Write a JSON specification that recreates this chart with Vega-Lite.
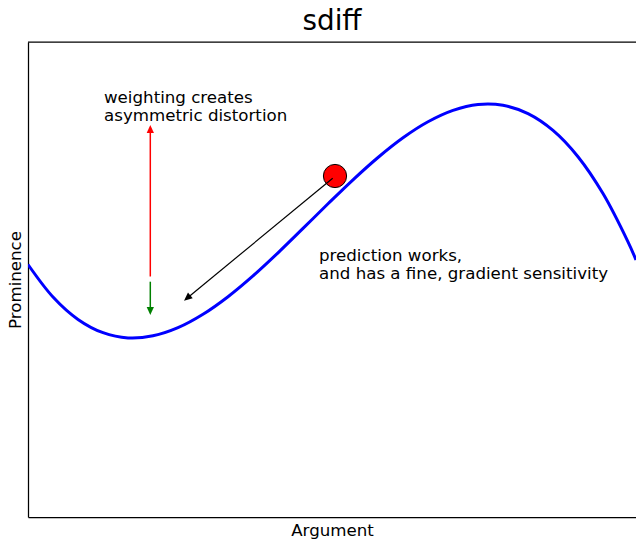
{
  "$schema": "https://vega.github.io/schema/vega-lite/v6.json",
  "width": 608,
  "height": 475,
  "autosize": {"type": "none"},
  "padding": {"left": 28, "top": 42, "right": 0, "bottom": 22},
  "title": {"text": "sdiff", "fontSize": 27.8, "font": "DejaVu Sans", "fontWeight": "normal", "color": "#000000", "anchor": "middle", "offset": 6},
  "config": {
    "view": {"stroke": null},
    "font": "DejaVu Sans",
    "axis": {"domainColor": "#000000", "domainWidth": 1.25, "ticks": false, "labels": false, "grid": false, "titleFontSize": 16.67, "titleFontWeight": "normal", "titleColor": "#000000", "titleFont": "DejaVu Sans"}
  },
  "encoding": {
    "x": {"field": "x", "type": "quantitative", "scale": {"domain": [0, 608], "nice": false, "zero": false}, "axis": {"title": "Argument", "titlePadding": 5}},
    "y": {"field": "y", "type": "quantitative", "scale": {"domain": [0, 475], "nice": false, "zero": false}, "axis": {"title": "Prominence", "titlePadding": 4}}
  },
  "layer": [
    {
      "data": {"values": [{"x": 0, "x2": 608, "y": 475}]},
      "mark": {"type": "rule", "color": "#000000", "strokeWidth": 1.25},
      "encoding": {"x2": {"field": "x2"}}
    },
    {
      "data": {"values": [
        {"x": 0, "y": 252.5}, {"x": 25, "y": 220.0}, {"x": 50, "y": 197.6}, {"x": 75, "y": 184.3},
        {"x": 100, "y": 179.1}, {"x": 125, "y": 181.2}, {"x": 150, "y": 189.3}, {"x": 175, "y": 202.7},
        {"x": 200, "y": 220.3}, {"x": 225, "y": 241.1}, {"x": 250, "y": 264.2}, {"x": 275, "y": 288.6},
        {"x": 300, "y": 313.2}, {"x": 325, "y": 337.2}, {"x": 350, "y": 359.5}, {"x": 375, "y": 379.2},
        {"x": 400, "y": 395.2}, {"x": 425, "y": 406.6}, {"x": 450, "y": 412.5}, {"x": 475, "y": 411.7},
        {"x": 500, "y": 403.4}, {"x": 525, "y": 386.6}, {"x": 550, "y": 360.3}, {"x": 575, "y": 323.4},
        {"x": 600, "y": 275.1}, {"x": 608, "y": 257.1}
      ]},
      "mark": {"type": "line", "color": "#0000ff", "strokeWidth": 3, "interpolate": "catmull-rom", "clip": true}
    },
    {
      "data": {"values": [{"x": 122.3, "y": 240.5, "x2": 122.3, "y2": 388}]},
      "mark": {"type": "rule", "color": "#ff0000", "strokeWidth": 1.5},
      "encoding": {"x2": {"field": "x2"}, "y2": {"field": "y2"}}
    },
    {
      "data": {"values": [{"x": 122.3, "y": 392}]},
      "mark": {"type": "point", "shape": "M0,0 L-0.45,1 L0.45,1 Z", "size": 260, "filled": true, "color": "#ff0000", "opacity": 1, "angle": 0}
    },
    {
      "data": {"values": [{"x": 122.3, "y": 235.3, "x2": 122.3, "y2": 206}]},
      "mark": {"type": "rule", "color": "#008000", "strokeWidth": 1.5},
      "encoding": {"x2": {"field": "x2"}, "y2": {"field": "y2"}}
    },
    {
      "data": {"values": [{"x": 122.3, "y": 202}]},
      "mark": {"type": "point", "shape": "M0,0 L-0.45,1 L0.45,1 Z", "size": 260, "filled": true, "color": "#008000", "opacity": 1, "angle": 180}
    },
    {
      "data": {"values": [{"x": 307, "y": 341}]},
      "mark": {"type": "circle", "size": 540, "color": "#ff0000", "opacity": 1, "stroke": "#000000", "strokeWidth": 1}
    },
    {
      "data": {"values": [{"x": 304.7, "y": 338.7, "x2": 159, "y2": 218.8}]},
      "mark": {"type": "rule", "color": "#000000", "strokeWidth": 1.2},
      "encoding": {"x2": {"field": "x2"}, "y2": {"field": "y2"}}
    },
    {
      "data": {"values": [{"x": 156, "y": 216.3}]},
      "mark": {"type": "point", "shape": "M0,0 L-0.45,1 L0.45,1 Z", "size": 270, "filled": true, "color": "#000000", "opacity": 1, "angle": 230.5}
    },
    {
      "data": {"values": [
        {"x": 76, "y": 414.3, "label": "weighting creates\nasymmetric distortion"},
        {"x": 291, "y": 256.3, "label": "prediction works,\nand has a fine, gradient sensitivity"}
      ]},
      "mark": {"type": "text", "align": "left", "baseline": "alphabetic", "fontSize": 16.67, "font": "DejaVu Sans", "color": "#000000", "lineBreak": "\n", "lineHeight": 18.6},
      "encoding": {"text": {"field": "label"}}
    }
  ]
}
